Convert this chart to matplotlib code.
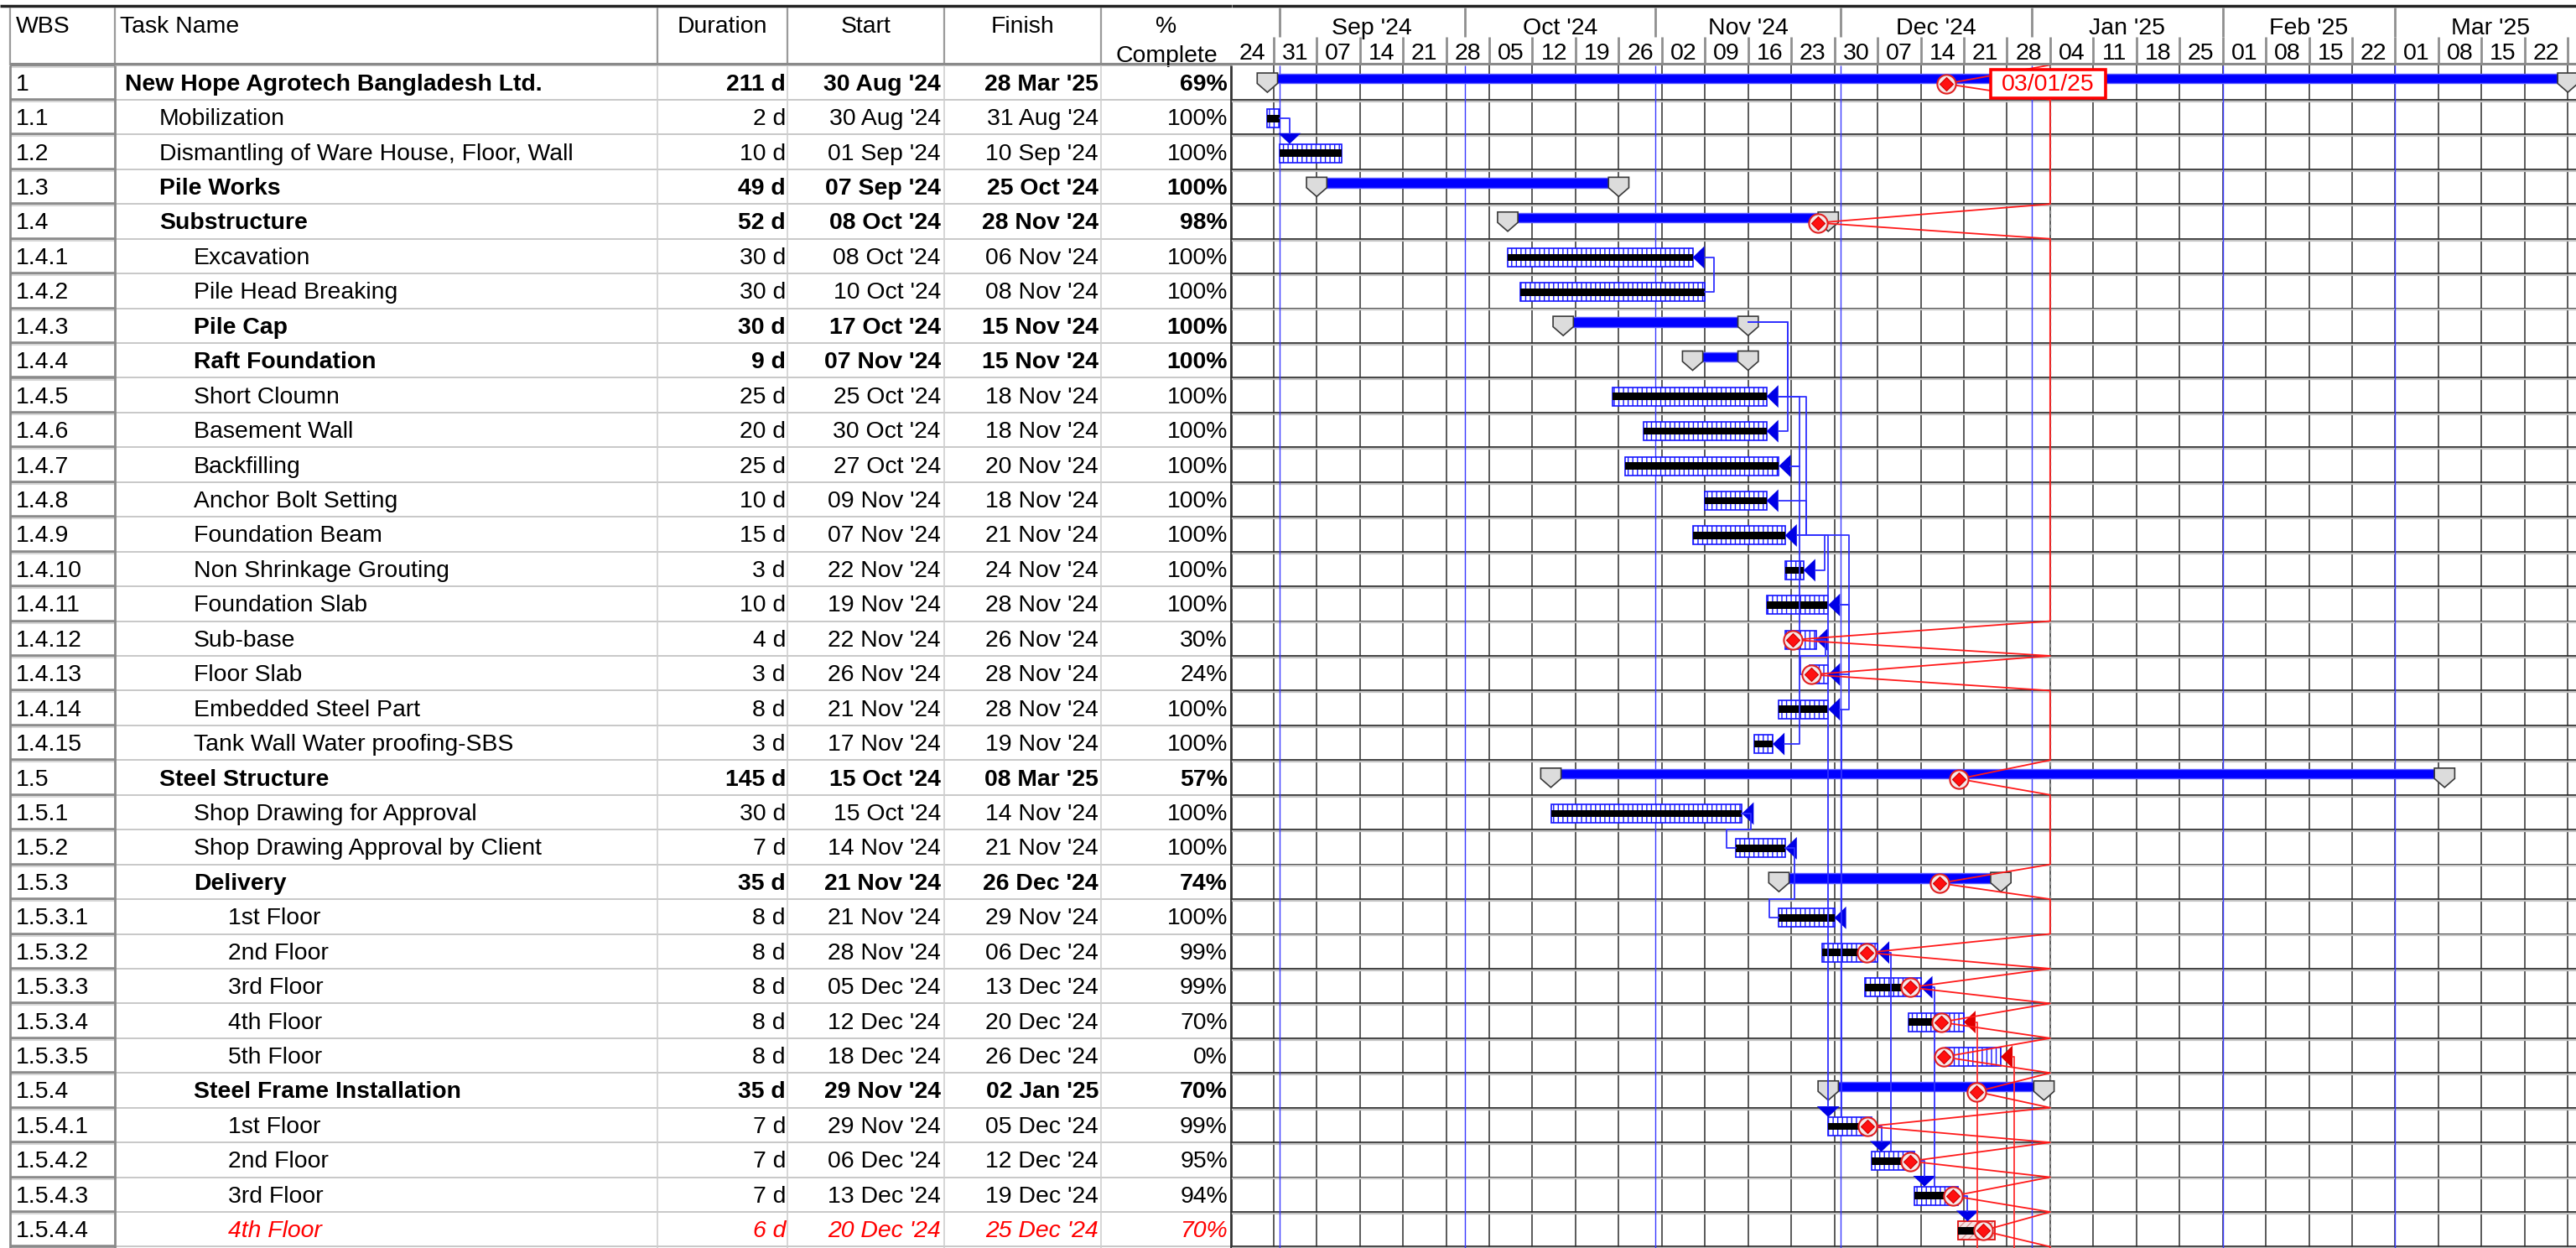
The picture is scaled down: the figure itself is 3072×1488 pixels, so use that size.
#!/usr/bin/env python3
# -*- coding: utf-8 -*-
import matplotlib

matplotlib.use("Agg")

import matplotlib.pyplot as plt
import matplotlib.dates as mdates
from matplotlib.patches import Polygon, Rectangle
import pandas as pd

IMAGE_DPI = 100.0
WIDTH, HEIGHT = 3072, 1488

# ---------------------------------------------------------------- data
wbs = ["1", "1.1", "1.2", "1.3", "1.4", "1.4.1", "1.4.2", "1.4.3", "1.4.4",
       "1.4.5", "1.4.6", "1.4.7", "1.4.8", "1.4.9", "1.4.10", "1.4.11",
       "1.4.12", "1.4.13", "1.4.14", "1.4.15", "1.5", "1.5.1", "1.5.2",
       "1.5.3", "1.5.3.1", "1.5.3.2", "1.5.3.3", "1.5.3.4", "1.5.3.5",
       "1.5.4", "1.5.4.1", "1.5.4.2", "1.5.4.3", "1.5.4.4"]

task_names = ["New Hope Agrotech Bangladesh Ltd.", "Mobilization",
              "Dismantling of Ware House, Floor, Wall", "Pile Works",
              "Substructure", "Excavation", "Pile Head Breaking", "Pile Cap",
              "Raft Foundation", "Short Cloumn", "Basement Wall", "Backfilling",
              "Anchor Bolt Setting", "Foundation Beam", "Non Shrinkage Grouting",
              "Foundation Slab", "Sub-base", "Floor Slab", "Embedded Steel Part",
              "Tank Wall Water proofing-SBS", "Steel Structure",
              "Shop Drawing for Approval", "Shop Drawing Approval by Client",
              "Delivery", "1st Floor", "2nd Floor", "3rd Floor", "4th Floor",
              "5th Floor", "Steel Frame Installation", "1st Floor", "2nd Floor",
              "3rd Floor", "4th Floor"]

levels = [0, 1, 1, 1, 1, 2, 2, 2, 2, 2, 2, 2, 2, 2, 2, 2, 2, 2, 2, 2,
          1, 2, 2, 2, 3, 3, 3, 3, 3, 2, 3, 3, 3, 3]

durations = ["211 d", "2 d", "10 d", "49 d", "52 d", "30 d", "30 d", "30 d",
             "9 d", "25 d", "20 d", "25 d", "10 d", "15 d", "3 d", "10 d",
             "4 d", "3 d", "8 d", "3 d", "145 d", "30 d", "7 d", "35 d",
             "8 d", "8 d", "8 d", "8 d", "8 d", "35 d", "7 d", "7 d", "7 d",
             "6 d"]

starts = ["30 Aug '24", "30 Aug '24", "01 Sep '24", "07 Sep '24", "08 Oct '24",
          "08 Oct '24", "10 Oct '24", "17 Oct '24", "07 Nov '24", "25 Oct '24",
          "30 Oct '24", "27 Oct '24", "09 Nov '24", "07 Nov '24", "22 Nov '24",
          "19 Nov '24", "22 Nov '24", "26 Nov '24", "21 Nov '24", "17 Nov '24",
          "15 Oct '24", "15 Oct '24", "14 Nov '24", "21 Nov '24", "21 Nov '24",
          "28 Nov '24", "05 Dec '24", "12 Dec '24", "18 Dec '24", "29 Nov '24",
          "29 Nov '24", "06 Dec '24", "13 Dec '24", "20 Dec '24"]

finishes = ["28 Mar '25", "31 Aug '24", "10 Sep '24", "25 Oct '24", "28 Nov '24",
            "06 Nov '24", "08 Nov '24", "15 Nov '24", "15 Nov '24", "18 Nov '24",
            "18 Nov '24", "20 Nov '24", "18 Nov '24", "21 Nov '24", "24 Nov '24",
            "28 Nov '24", "26 Nov '24", "28 Nov '24", "28 Nov '24", "19 Nov '24",
            "08 Mar '25", "14 Nov '24", "21 Nov '24", "26 Dec '24", "29 Nov '24",
            "06 Dec '24", "13 Dec '24", "20 Dec '24", "26 Dec '24", "02 Jan '25",
            "05 Dec '24", "12 Dec '24", "19 Dec '24", "25 Dec '24"]

percent = [69, 100, 100, 100, 98, 100, 100, 100, 100, 100, 100, 100, 100, 100,
           100, 100, 30, 24, 100, 100, 57, 100, 100, 74, 100, 99, 99, 70, 0, 70,
           99, 95, 94, 70]

summary_rows = [0, 3, 4, 7, 8, 20, 23, 29]
late_rows = [33]
# rows whose finish carries a link arrowhead (red = critical)
end_arrow_rows = [5, 9, 10, 11, 12, 13, 14, 15, 16, 17, 18, 19, 21, 22, 24,
                  25, 26, 27, 28]
red_arrow_rows = [27, 28]

# progress line points (row, date)
progress_rows = [0, 4, 16, 17, 20, 23, 25, 26, 27, 28, 29, 30, 31, 32, 33]
progress_dates = ["2024-12-18 02:00", "2024-11-27 07:00", "2024-11-23 05:00",
                  "2024-11-26 05:00", "2024-12-20 05:00", "2024-12-17 02:00",
                  "2024-12-05 07:00", "2024-12-12 07:00", "2024-12-17 07:00",
                  "2024-12-17 17:00", "2024-12-23 02:00", "2024-12-05 10:00",
                  "2024-12-12 07:00", "2024-12-19 07:00", "2024-12-24 02:00"]

# dependency links (predecessor row, successor row, kind)
links = [(1, 2, "FS"), (6, 5, "FF"), (7, 9, "FF"), (7, 10, "FF"),
         (9, 11, "FF"), (9, 13, "FF"), (12, 13, "FF"), (11, 19, "FF"),
         (13, 14, "FF"), (13, 15, "FF"), (15, 17, "FF"), (15, 18, "FF"),
         (16, 17, "FS"), (13, 30, "FS"), (18, 30, "FS-"), (21, 22, "FS"),
         (22, 24, "FS"), (30, 31, "FS"), (31, 32, "FS"), (32, 33, "FS"),
         (25, 31, "FS-"), (26, 32, "FS-"), (27, None, "OUT"),
         (28, None, "OUT")]

status_date = "2025-01-04"
status_label = "03/01/25"
timeline_start = "2024-08-24"
timeline_end = "2025-03-29"

# ---------------------------------------------------------------- layout
HEAD = 77.5          # header height, px
ROW = 41.44          # row height, px
TABLE_W = 1469       # table width, px
PX_DAY = 7.35        # px per day
ORIGIN_PX = 1467.3   # x pixel of timeline_start
FONT = 20.4
TXT_DY = 0.06        # optical centring of row text

BAR_DY, BAR_H, DONE_H = 0.036, 0.53, 0.21
SUM_DY, SUM_H = -0.108, 0.277
CAP_HW = 1.65
ARROW_LEN = 14 / PX_DAY
GAP = 11 / PX_DAY
FS_GAP = 11.8 / PX_DAY

plt.rcParams["font.family"] = ["Liberation Sans", "DejaVu Sans"]
plt.rcParams["hatch.linewidth"] = 1.0

n_rows = len(wbs)
n_vis = (HEIGHT - HEAD) / ROW
fmt = "%d %b '%y"
start_num = mdates.date2num(pd.to_datetime(starts, format=fmt))
end_num = mdates.date2num(pd.to_datetime(finishes, format=fmt)) + 1
t0 = mdates.date2num(pd.Timestamp(timeline_start))
status = mdates.date2num(pd.Timestamp(status_date))
x_lo = t0 + (TABLE_W - ORIGIN_PX) / PX_DAY
x_hi = t0 + (WIDTH - ORIGIN_PX) / PX_DAY


def px_axes(fig, left, top, right, bottom):
    ax = fig.add_axes([left / WIDTH, 1 - bottom / HEIGHT,
                       (right - left) / WIDTH, (bottom - top) / HEIGHT])
    ax.set_axis_off()
    return ax


fig = plt.figure(facecolor="white")
fig.set_size_inches(WIDTH / IMAGE_DPI, HEIGHT / IMAGE_DPI)

ax_th = px_axes(fig, 0, 0, TABLE_W, HEAD)
ax_th.set_xlim(0, TABLE_W)
ax_th.set_ylim(HEAD, 0)
ax_t = px_axes(fig, 0, HEAD, TABLE_W, HEIGHT)
ax_t.set_xlim(0, TABLE_W)
ax_t.set_ylim(n_vis - 0.5, -0.5)
ax_gh = px_axes(fig, TABLE_W, 0, WIDTH, HEAD)
ax_gh.set_xlim(x_lo, x_hi)
ax_gh.set_ylim(HEAD, 0)
ax_g = px_axes(fig, TABLE_W, HEAD, WIDTH, HEIGHT)
ax_g.set_xlim(x_lo, x_hi)
ax_g.set_ylim(n_vis - 0.5, -0.5)

# ---------------------------------------------------------------- table header
col_edges = [137, 784, 939, 1126, 1313]
ax_th.hlines(7, 0, TABLE_W, color="#222222", lw=2.5)
ax_gh.hlines(7, x_lo, x_hi, color="#222222", lw=2.5)
ax_th.vlines([12] + col_edges, 9, HEAD, color="#9a9a9a", lw=1.6)
ax_th.text(19, 32, "WBS", fontsize=FONT, va="center", ha="left")
ax_th.text(143, 32, "Task Name", fontsize=FONT, va="center", ha="left")
for (a, b), label in zip([(784, 939), (939, 1126), (1126, 1313)],
                         ["Duration", "Start", "Finish"]):
    ax_th.text((a + b) / 2, 32, label, fontsize=FONT, va="center", ha="center")
ax_th.text(1391, 32, "%", fontsize=FONT, va="center", ha="center")
ax_th.text(1391, 67, "Complete", fontsize=FONT, va="center", ha="center")
ax_th.hlines(HEAD - 1, 12, TABLE_W, color="#8a8a8a", lw=3)

# ---------------------------------------------------------------- table body
bounds = [i + 0.5 for i in range(-1, n_rows)]
ax_t.hlines(bounds, 137, TABLE_W, color="#c8c8c8", lw=1.4)
ax_t.hlines(bounds, 12, 137, color="#8a8a8a", lw=2.6)
ax_t.hlines([b + 0.05 for b in bounds], 12, 137, color="#d6d6d6", lw=1.5)
ax_t.vlines(col_edges[1:], -0.5, n_vis, color="#cfcfcf", lw=1.2)
ax_t.vlines([12, 137], -0.5, n_vis, color="#8a8a8a", lw=2)
ax_t.vlines(TABLE_W - 1, -0.5, n_vis, color="#333333", lw=2, clip_on=False)

for i in range(n_rows):
    bold = "bold" if i in summary_rows else "normal"
    late = i in late_rows
    color = "#ff0000" if late else "black"
    style = "italic" if late else "normal"
    kw = dict(fontsize=FONT, va="center", color=color, fontweight=bold,
              fontstyle=style)
    y = i + TXT_DY
    ax_t.text(19, y, wbs[i], fontsize=FONT, va="center", ha="left")
    ax_t.text(149 + 41 * levels[i], y, task_names[i], ha="left", **kw)
    ax_t.text(937, y, durations[i], ha="right", **kw)
    ax_t.text(1122, y, starts[i], ha="right", **kw)
    ax_t.text(1310, y, finishes[i], ha="right", **kw)
    ax_t.text(1464, y, f"{percent[i]}%", ha="right", **kw)

# ---------------------------------------------------------------- timeline header
weeks = pd.date_range(timeline_start, timeline_end, freq="7D")
months = pd.date_range("2024-09-01", "2025-04-01", freq="MS")
week_num = mdates.date2num(weeks)
month_num = mdates.date2num(months)
ax_gh.vlines(week_num[1:], 44, HEAD, color="#8f8f8f", lw=2)
ax_gh.vlines(month_num[:-1], 9, 44, color="#8f8f8f", lw=2)
for w, wn in zip(weeks, week_num):
    if wn + 3.5 < x_hi - 2:
        ax_gh.text(wn + 3.5, 64, w.strftime("%d"), fontsize=20.5,
                   ha="center", va="center", clip_on=True)
for m0, m1, m in zip(month_num[:-1], month_num[1:], months[:-1]):
    ax_gh.text((m0 + m1) / 2, 34, m.strftime("%b '%y"), fontsize=20.5,
               ha="center", va="center", clip_on=True)
ax_gh.hlines(HEAD - 1, x_lo, x_hi, color="#8a8a8a", lw=3)

# ---------------------------------------------------------------- grid
ax_g.vlines(week_num[1:], -0.5, n_vis, color="#2e2e2e", lw=1.1, zorder=1)
ax_g.vlines(month_num[:-1], -0.5, n_vis, color="#3a3aff", lw=1.0, zorder=1.5)
ax_g.hlines(bounds[1:], x_lo, x_hi, color="#2e2e2e", lw=1.3, zorder=1)
ax_g.hlines([b + 0.045 for b in bounds[1:]], x_lo, x_hi, color="#c4c4c4",
            lw=1.6, zorder=1)
ax_g.axvline(status, color="#9a9a9a", lw=1.0, ls=(0, (3, 3)), zorder=1.6)

# ---------------------------------------------------------------- bars
for i in range(n_rows):
    s, e = start_num[i], end_num[i]
    if i in summary_rows:
        ax_g.barh(i + SUM_DY, e - s, left=s, height=SUM_H, color="#0000ff",
                  edgecolor="#5a5aff", lw=1, zorder=3)
        for c in (s, e):
            cap = Polygon([(c - CAP_HW, i - 0.27), (c + CAP_HW, i - 0.27),
                           (c + CAP_HW, i + 0.03), (c, i + 0.285),
                           (c - CAP_HW, i + 0.03)], closed=True,
                          facecolor="#dcdcdc", edgecolor="#3a3a3a", lw=1.2,
                          zorder=4)
            ax_g.add_patch(cap)
        continue
    done = percent[i] / 100.0 * (e - s)
    if i in late_rows:
        ax_g.barh(i + BAR_DY, e - s, left=s, height=BAR_H, color="#f6e4e4",
                  edgecolor="#d99a9a", hatch="////", lw=0, zorder=3)
        ax_g.barh(i + BAR_DY, e - s, left=s, height=BAR_H, fill=False,
                  edgecolor="#e01010", lw=1.3, zorder=3.1)
    else:
        ax_g.barh(i + BAR_DY, e - s, left=s, height=BAR_H, color="white",
                  edgecolor="#1414ff", hatch="|||", lw=1.2, zorder=3)
    ax_g.barh(i + BAR_DY, done, left=s, height=DONE_H, color="black",
              lw=0, zorder=3.5)

for i in end_arrow_rows:
    e = end_num[i]
    yc = i + BAR_DY
    col = "#e00000" if i in red_arrow_rows else "#0000e6"
    ax_g.add_patch(Polygon([(e, yc), (e + ARROW_LEN, yc - 0.325),
                            (e + ARROW_LEN, yc + 0.325)], closed=True,
                           color=col, lw=0, zorder=4.5))


# ---------------------------------------------------------------- links
def row_y(i):
    return i - 0.1 if i in summary_rows else i + BAR_DY


def down_arrow(x, tip_y):
    hw = 13.5 / PX_DAY
    ax_g.add_patch(Polygon([(x, tip_y), (x - hw, tip_y - 0.31),
                            (x + hw, tip_y - 0.31)], closed=True,
                           color="#0000e6", lw=0, zorder=4.6))


for p, s, kind in links:
    ep, yp = end_num[p], row_y(p)
    col = "#3030ff"
    if kind == "OUT":
        col = "#ff3030"
        x0 = ep + ARROW_LEN
        pts = [(x0, yp), (x0 + 0.3, yp), (x0 + 0.3, n_vis)]
    elif kind == "FF":
        x0 = ep + (ARROW_LEN if p in end_arrow_rows else 0)
        xs = end_num[s] + ARROW_LEN
        xo = max(x0, xs) + GAP
        pts = [(x0, yp), (xo, yp), (xo, row_y(s)), (xs, row_y(s))]
    elif kind == "FS-":
        x0 = ep + ARROW_LEN + 0.3
        pts = [(ep + ARROW_LEN, yp), (x0, yp), (x0, s + BAR_DY - BAR_H / 2)]
    else:
        ss = start_num[s]
        if ss < ep - 0.25:
            xo, xb, yb = ep + GAP, ss - GAP, s - 0.5
            pts = [(ep, yp), (xo, yp), (xo, yb), (xb, yb), (xb, row_y(s)),
                   (ss, row_y(s))]
        else:
            x0 = ep + (ARROW_LEN if p in end_arrow_rows else 0)
            xv = max(ep + FS_GAP, ss)
            tip = s + BAR_DY - BAR_H / 2
            pts = [(x0, yp), (xv, yp), (xv, tip - 0.3)]
            down_arrow(xv, tip)
    xs_, ys_ = zip(*pts)
    ax_g.plot(xs_, ys_, color=col, lw=1.3, zorder=5, solid_joinstyle="round")

# ---------------------------------------------------------------- progress line
prog_x = mdates.date2num(pd.to_datetime(progress_dates))
prog = dict(zip(progress_rows, prog_x))
line = [(status, -0.5)]
for i in range(n_rows):
    if i in prog:
        line.append((prog[i], i + 0.04))
    line.append((status, i + 0.5))
line.append((status, n_vis))
lx, ly = zip(*line)
ax_g.plot(lx, ly, color="#ff1a1a", lw=1.3, zorder=6)

my = [r + 0.04 for r in progress_rows]
ax_g.plot(prog_x, my, "o", ms=16, mfc="#f4eaea", mec="#e02020", mew=1.5,
          zorder=7, ls="none")
ax_g.plot(prog_x, my, "D", ms=8.5, mfc="#ff1010", mec="#d00000", mew=0.8,
          zorder=7.1, ls="none")

# status date label
box_l = status - 71 / PX_DAY
ax_g.add_patch(Rectangle((box_l, -0.5 + 5.5 / ROW), 137 / PX_DAY, 34 / ROW,
                         facecolor="white", edgecolor="#ff0000", lw=2.6,
                         zorder=8))
ax_g.text(status - 2.5 / PX_DAY, -0.5 + 24 / ROW, status_label, fontsize=20.5,
          color="#ff0000", ha="center", va="center", zorder=9)

fig.savefig("out.png", dpi=IMAGE_DPI, facecolor="white")
